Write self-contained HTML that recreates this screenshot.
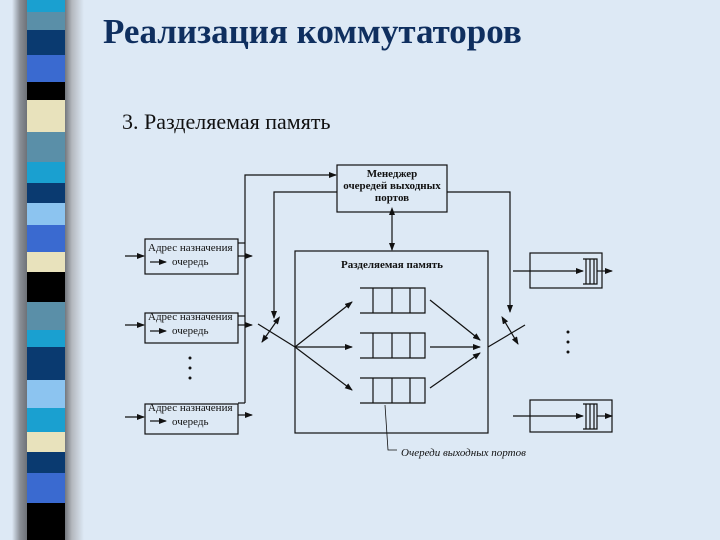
<!DOCTYPE html>
<html><head><meta charset="utf-8"><style>
html,body{margin:0;padding:0}
body{width:720px;height:540px;overflow:hidden;background:#dde9f5;position:relative}
.t{position:absolute;font-family:"Liberation Serif",serif;white-space:nowrap}
</style></head><body>
<svg width="720" height="540" style="position:absolute;left:0;top:0">
<defs>
<linearGradient id="sh" x1="0" x2="1"><stop offset="0" stop-color="#dde9f5"/><stop offset="0.5" stop-color="#8a8f96"/><stop offset="1" stop-color="#6a6e74"/></linearGradient>
<linearGradient id="sh2" x1="0" x2="1"><stop offset="0" stop-color="#6a6e74"/><stop offset="0.4" stop-color="#b4b8be"/><stop offset="1" stop-color="#dde9f5"/></linearGradient>
<marker id="a" markerWidth="8" markerHeight="6" refX="7" refY="3" orient="auto" markerUnits="userSpaceOnUse"><path d="M0,0L8,3L0,6z" fill="#111"/></marker>
<marker id="b" markerWidth="8" markerHeight="6" refX="1" refY="3" orient="auto-start-reverse" markerUnits="userSpaceOnUse"><path d="M0,0L8,3L0,6z" fill="#111"/></marker>
</defs>
<rect x="12" y="0" width="16" height="540" fill="url(#sh)"/>
<rect x="64" y="0" width="20" height="540" fill="url(#sh2)"/>
<g>
<rect x="27" y="0" width="38" height="12" fill="#1aa0d0"/>
<rect x="27" y="12" width="38" height="18" fill="#5a8fa8"/>
<rect x="27" y="30" width="38" height="25" fill="#0a3a70"/>
<rect x="27" y="55" width="38" height="27" fill="#3a6ad0"/>
<rect x="27" y="82" width="38" height="18" fill="#000"/>
<rect x="27" y="100" width="38" height="32" fill="#e8e2bc"/>
<rect x="27" y="132" width="38" height="30" fill="#5a8fa8"/>
<rect x="27" y="162" width="38" height="21" fill="#1aa0d0"/>
<rect x="27" y="183" width="38" height="20" fill="#0a3a70"/>
<rect x="27" y="203" width="38" height="22" fill="#8cc4f0"/>
<rect x="27" y="225" width="38" height="27" fill="#3a6ad0"/>
<rect x="27" y="252" width="38" height="20" fill="#e8e2bc"/>
<rect x="27" y="272" width="38" height="30" fill="#000"/>
<rect x="27" y="302" width="38" height="28" fill="#5a8fa8"/>
<rect x="27" y="330" width="38" height="17" fill="#1aa0d0"/>
<rect x="27" y="347" width="38" height="33" fill="#0a3a70"/>
<rect x="27" y="380" width="38" height="28" fill="#8cc4f0"/>
<rect x="27" y="408" width="38" height="24" fill="#1aa0d0"/>
<rect x="27" y="432" width="38" height="20" fill="#e8e2bc"/>
<rect x="27" y="452" width="38" height="21" fill="#0a3a70"/>
<rect x="27" y="473" width="38" height="30" fill="#3a6ad0"/>
<rect x="27" y="503" width="38" height="37" fill="#000"/>
</g>
<g stroke="#111" stroke-width="1.2" fill="none">
<rect x="337" y="165" width="110" height="47"/>
<rect x="295" y="251" width="193" height="182"/>
<rect x="145" y="239" width="93" height="35"/>
<rect x="145" y="313" width="93" height="30"/>
<rect x="145" y="404" width="93" height="30"/>
<polyline points="238,243 245,243"/><polyline points="238,316 245,316"/><polyline points="238,403 245,403"/>
<polyline points="245,403 245,175 336,175" marker-end="url(#a)"/>
<line x1="238" y1="256" x2="252" y2="256" marker-end="url(#a)"/>
<line x1="238" y1="325" x2="252" y2="325" marker-end="url(#a)"/>
<line x1="238" y1="415" x2="252" y2="415" marker-end="url(#a)"/>
<line x1="125" y1="256" x2="144" y2="256" marker-end="url(#a)"/>
<line x1="125" y1="325" x2="144" y2="325" marker-end="url(#a)"/>
<line x1="125" y1="417" x2="144" y2="417" marker-end="url(#a)"/>
<line x1="150" y1="262" x2="166" y2="262" marker-end="url(#a)"/>
<line x1="150" y1="331" x2="166" y2="331" marker-end="url(#a)"/>
<line x1="150" y1="421" x2="166" y2="421" marker-end="url(#a)"/>
<polyline points="337,192 274,192 274,318" marker-end="url(#a)"/>
<line x1="392" y1="214" x2="392" y2="250" marker-start="url(#b)" marker-end="url(#a)"/>
<line x1="258" y1="324" x2="295" y2="347"/>
<line x1="276" y1="322" x2="262" y2="342" marker-start="url(#b)" marker-end="url(#a)"/>
<line x1="295" y1="347" x2="352" y2="302" marker-end="url(#a)"/>
<line x1="295" y1="347" x2="352" y2="347" marker-end="url(#a)"/>
<line x1="295" y1="347" x2="352" y2="390" marker-end="url(#a)"/>
<g>
<path d="M360,288H425V313H360M373,288V313M392,288V313M410,288V313"/>
<path d="M360,333H425V358H360M373,333V358M392,333V358M410,333V358"/>
<path d="M360,378H425V403H360M373,378V403M392,378V403M410,378V403"/>
</g>
<line x1="430" y1="300" x2="480" y2="340" marker-end="url(#a)"/>
<line x1="430" y1="347" x2="480" y2="347" marker-end="url(#a)"/>
<line x1="430" y1="388" x2="480" y2="353" marker-end="url(#a)"/>
<line x1="488" y1="347" x2="525" y2="325"/>
<polyline points="447,192 510,192 510,312" marker-end="url(#a)"/>
<line x1="505" y1="322" x2="518" y2="344" marker-start="url(#b)" marker-end="url(#a)"/>
<rect x="530" y="253" width="72" height="35"/>
<rect x="530" y="400" width="82" height="32"/>
<line x1="513" y1="271" x2="583" y2="271" marker-end="url(#a)"/>
<line x1="597" y1="271" x2="612" y2="271" marker-end="url(#a)"/>
<line x1="513" y1="416" x2="583" y2="416" marker-end="url(#a)"/>
<line x1="597" y1="416" x2="612" y2="416" marker-end="url(#a)"/>
<path d="M583,259H597V284H583M586,259V284M590,259V284M594,259V284"/>
<path d="M583,404H597V429H583M586,404V429M590,404V429M594,404V429"/>
<polyline points="385,405 388,450 397,450" stroke-width="0.8"/>
</g>
<g fill="#111"><circle cx="190" cy="358" r="1.5"/><circle cx="190" cy="368" r="1.5"/><circle cx="190" cy="378" r="1.5"/>
<circle cx="568" cy="332" r="1.5"/><circle cx="568" cy="342" r="1.5"/><circle cx="568" cy="352" r="1.5"/></g>
<g font-family="Liberation Serif,serif" font-size="11" fill="#111">
<text x="392" y="177" text-anchor="middle" font-weight="bold">Менеджер</text>
<text x="392" y="189" text-anchor="middle" font-weight="bold">очередей выходных</text>
<text x="392" y="201" text-anchor="middle" font-weight="bold">портов</text>
<text x="392" y="268" text-anchor="middle" font-weight="bold">Разделяемая память</text>
<text x="148" y="251">Адрес назначения</text><text x="172" y="265">очередь</text>
<text x="148" y="320">Адрес назначения</text><text x="172" y="334">очередь</text>
<text x="148" y="411">Адрес назначения</text><text x="172" y="425">очередь</text>
<text x="401" y="456" font-style="italic">Очереди выходных портов</text>
</g>
</svg>
<div class="t" style="left:103px;top:12px;font-size:35px;font-weight:bold;color:#0f2f5f">Реализация коммутаторов</div>
<div class="t" style="left:122px;top:109px;font-size:22px;color:#111">3. Разделяемая память</div>
</body></html>
